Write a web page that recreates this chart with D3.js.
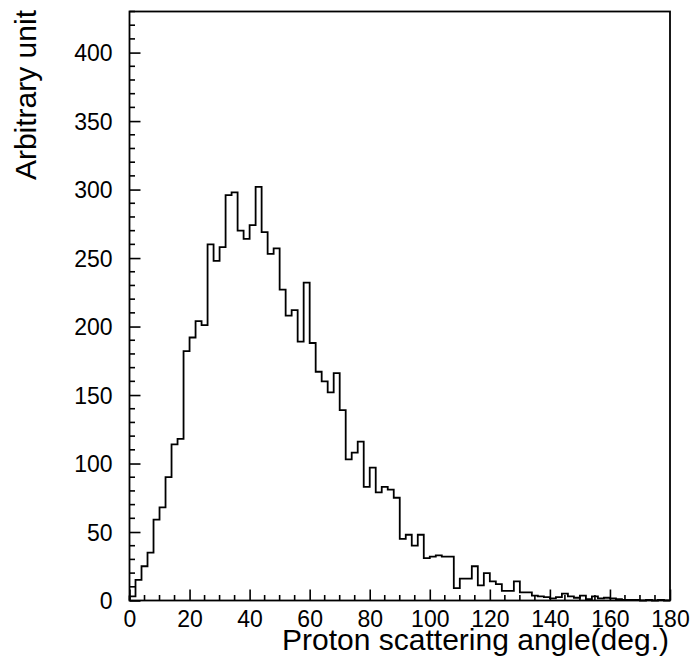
<!DOCTYPE html>
<html>
<head>
<meta charset="utf-8">
<script src="https://cdn.jsdelivr.net/npm/d3@7"></script>
<style>
  html, body { margin: 0; padding: 0; background: #fff; }
  svg text { font-family: "Liberation Sans", Arial, Helvetica, sans-serif; fill: #000; }
</style>
</head>
<body>
<svg id="chart" width="699" height="666"></svg>
<script>
// Bin settings: 90 bins of 2 degrees from 0 to 180
const binEdgesStart = 0;
const binWidth = 2;
// Counts per bin (Arbitrary unit)
const counts = [
  3, 15, 25, 35, 59, 68, 90, 114, 118, 182,
  192, 204, 201, 260, 248, 258, 296, 298, 270, 264,
  274, 302, 269, 253, 257, 227, 208, 212, 189, 232,
  188, 167, 160, 152, 166, 139, 103, 108, 116, 83,
  97, 79, 83, 81, 75, 45, 48, 40, 48, 31,
  32, 33, 32, 32, 9, 16, 16, 25, 11, 20,
  14, 12, 7, 7, 14, 6, 6, 3.5, 3, 2.5,
  1.5, 2.5, 5, 3, 2, 3.5, 1, 3, 1.5, 2,
  1.5, 1, 0.5, 0.5, 0.5, 0, 0.5, 0, 0.5, 0
];
const xTickValues = [0, 20, 40, 60, 80, 100, 120, 140, 160, 180];
const yTickValues = [0, 50, 100, 150, 200, 250, 300, 350, 400];
const xDomain = [0, 180];
const yDomain = [0, 430];
const xTitle = "Proton scattering angle(deg.)";
const yTitle = "Arbitrary unit";

const svg = d3.select("#chart");
const L = 129.5, R = 670, T = 11.5, B = 600.5;

const x = d3.scaleLinear().domain(xDomain).range([L, R]);
const y = d3.scaleLinear().domain(yDomain).range([B, T]);

// Minor ticks
const xMinor = d3.range(0, 181, 5).filter(v => v % 20 !== 0);
const yMinor = d3.range(0, 431, 10).filter(v => v % 50 !== 0);

// X axis (ticks pointing inward / up)
const gx = svg.append("g").attr("transform", `translate(0,${B})`);
gx.call(d3.axisBottom(x).tickValues(xTickValues).tickSize(-11).tickPadding(0).tickFormat(d3.format("d")));
gx.select(".domain").remove();
gx.selectAll(".tick line").attr("stroke", "#000").attr("stroke-width", 1.6);
gx.selectAll(".tick text").attr("font-size", 23).attr("dy", "0").attr("y", 26.5);
gx.selectAll(".minor").data(xMinor).enter().append("line")
  .attr("class", "minor")
  .attr("x1", d => x(d)).attr("x2", d => x(d))
  .attr("y1", 0).attr("y2", -5.5)
  .attr("stroke", "#000").attr("stroke-width", 1.6);

// Y axis (ticks pointing inward / right)
const gy = svg.append("g").attr("transform", `translate(${L},0)`);
gy.call(d3.axisLeft(y).tickValues(yTickValues).tickSize(-11).tickPadding(0).tickFormat(d3.format("d")));
gy.select(".domain").remove();
gy.selectAll(".tick line").attr("stroke", "#000").attr("stroke-width", 1.6);
gy.selectAll(".tick text").attr("font-size", 23).attr("x", -17).attr("dy", "0.36em");
gy.selectAll(".minor").data(yMinor).enter().append("line")
  .attr("class", "minor")
  .attr("y1", d => y(d)).attr("y2", d => y(d))
  .attr("x1", 0).attr("x2", 5.5)
  .attr("stroke", "#000").attr("stroke-width", 1.6);

// Histogram step line
const pts = [[x(binEdgesStart), y(0)]];
counts.forEach((c, i) => {
  const x0 = binEdgesStart + i * binWidth;
  pts.push([x(x0), y(c)]);
  pts.push([x(x0 + binWidth), y(c)]);
});
pts.push([x(binEdgesStart + counts.length * binWidth), y(0)]);
svg.append("path")
  .attr("d", d3.line()(pts))
  .attr("fill", "none")
  .attr("stroke", "#000")
  .attr("stroke-width", 1.8)
  .attr("stroke-linejoin", "miter");

// Frame
svg.append("rect")
  .attr("x", L).attr("y", T)
  .attr("width", R - L).attr("height", B - T)
  .attr("fill", "none").attr("stroke", "#000").attr("stroke-width", 1.8);

// Axis titles
svg.append("text")
  .attr("x", 669).attr("y", 650)
  .attr("text-anchor", "end")
  .attr("font-size", 30)
  .text(xTitle);

svg.append("text")
  .attr("transform", "translate(36,10) rotate(-90)")
  .attr("text-anchor", "end")
  .attr("font-size", 30)
  .text(yTitle);
</script>
</body>
</html>
